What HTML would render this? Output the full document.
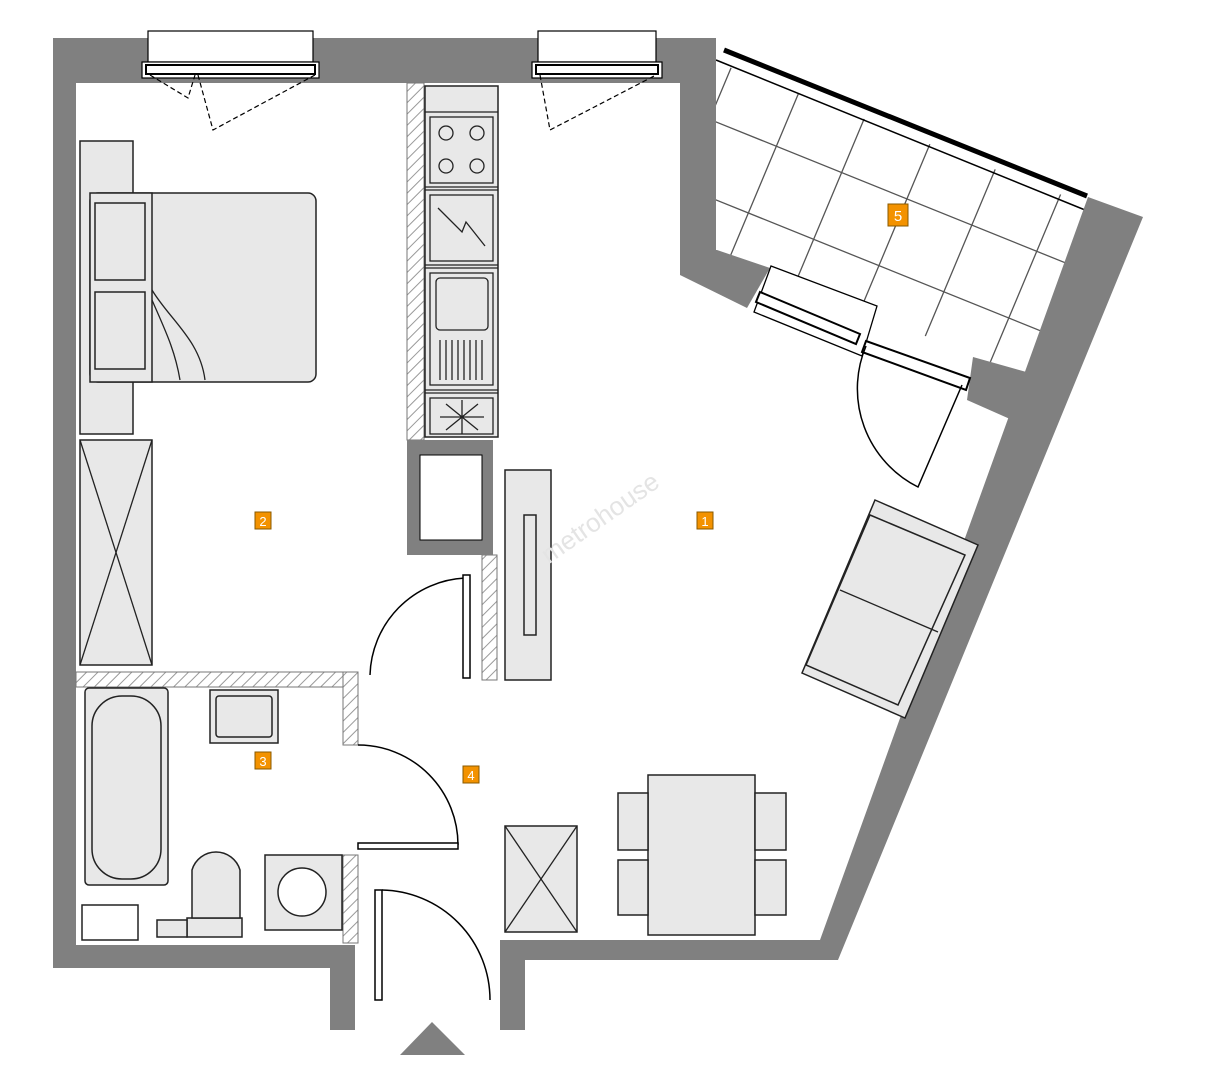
<!DOCTYPE html>
<html><head><meta charset="utf-8"><style>
html,body{margin:0;padding:0;background:#fff;}
svg{display:block;}
</style></head><body>
<svg width="1217" height="1080" viewBox="0 0 1217 1080" xmlns="http://www.w3.org/2000/svg" font-family="Liberation Sans, sans-serif">
<defs>
<pattern id="h" width="8" height="8" patternUnits="userSpaceOnUse" patternTransform="rotate(45)">
<rect width="8" height="8" fill="#fff"/><line x1="0" y1="0" x2="0" y2="8" stroke="#999" stroke-width="2"/>
</pattern>
<clipPath id="bal"><polygon points="716,62 1088,205 1030,373 973,357 770,268 716,250"/></clipPath>
</defs>
<!-- balcony tiles -->
<g clip-path="url(#bal)" stroke="#555" stroke-width="1.3">
<line x1="617" y1="82" x2="1217" y2="324"/>
<line x1="617" y1="160" x2="1217" y2="402"/>
<line x1="617" y1="238" x2="1217" y2="480"/>
<line x1="617" y1="4" x2="1217" y2="246"/>
<line x1="796" y1="-87" x2="601" y2="378"/>
<line x1="862" y1="-58" x2="667" y2="407"/>
<line x1="927" y1="-31" x2="732" y2="434"/>
<line x1="992" y1="-4" x2="797" y2="461"/>
<line x1="1057" y1="22" x2="862" y2="487"/>
<line x1="1122" y1="48" x2="927" y2="513"/>
</g>
<!-- balcony railing -->
<line x1="724" y1="50" x2="1087" y2="196" stroke="#000" stroke-width="5"/>
<line x1="716" y1="60" x2="1090" y2="212" stroke="#000" stroke-width="1.5"/>
<!-- walls -->
<g fill="#808080">
<rect x="53" y="38" width="663" height="45"/>
<rect x="53" y="38" width="23" height="930"/>
<rect x="680" y="38" width="36" height="212"/>
<polygon points="680,250 717,250 770,268 747,308 680,275"/>
<polygon points="973,357 1030,373 1028,427 967,400"/>
<polygon points="1088,197 1143,217 838,960 525,960 525,1030 500,1030 500,940 820,940"/>
<rect x="53" y="945" width="302" height="23"/>
<rect x="330" y="945" width="25" height="85"/>
<polygon points="400,1055 432,1022 465,1055"/>
</g>
<!-- top windows -->
<g fill="#fff" stroke="#000" stroke-width="1.2">
<rect x="148" y="31" width="165" height="31"/>
<rect x="142" y="62" width="177" height="16"/>
<rect x="146" y="65" width="169" height="9" stroke-width="2"/>
<rect x="538" y="31" width="118" height="31"/>
<rect x="532" y="62" width="130" height="16"/>
<rect x="536" y="65" width="122" height="9" stroke-width="2"/>
</g>
<g fill="none" stroke="#000" stroke-width="1.2" stroke-dasharray="5,3">
<polyline points="150,75 188,98 195,75"/>
<polyline points="198,75 213,130 315,75"/>
<polyline points="540,75 550,130 656,75"/>
</g>
<!-- balcony door -->
<g stroke="#000" stroke-width="1.3" fill="#fff">
<polygon points="771,266 877,306 862,356 754,312"/>
<polygon points="760,292 860,334 856,344 756,302" stroke-width="2"/>
<polygon points="866,341 970,378 966,390 862,352" stroke-width="2"/>
</g>
<path d="M866,346 A110,110 0 0 0 918,487 L962,385" fill="none" stroke="#000" stroke-width="1.5"/>
<!-- partitions hatched -->
<g fill="url(#h)" stroke="#777" stroke-width="1">
<rect x="407" y="83" width="17" height="357"/>
<rect x="482" y="555" width="15" height="125"/>
<rect x="76" y="672" width="282" height="15"/>
<rect x="343" y="672" width="15" height="73"/>
<rect x="343" y="855" width="15" height="88"/>
</g>
<rect x="407" y="440" width="86" height="115" fill="#808080"/>
<rect x="420" y="455" width="62" height="85" fill="#fff" stroke="#000"/>
<!-- furniture -->
<g fill="#e8e8e8" stroke="#222" stroke-width="1.5">
<rect x="80" y="141" width="53" height="293"/>
<rect x="90" y="193" width="226" height="189" rx="8"/>
<rect x="90" y="193" width="62" height="189"/>
<rect x="95" y="203" width="50" height="77"/>
<rect x="95" y="292" width="50" height="77"/>
<rect x="80" y="440" width="72" height="225"/>
<rect x="425" y="86" width="73" height="351"/>
<rect x="505" y="470" width="46" height="210"/>
<rect x="524" y="515" width="12" height="120"/>
<rect x="648" y="775" width="107" height="160"/>
<rect x="618" y="793" width="30" height="57"/>
<rect x="618" y="860" width="30" height="55"/>
<rect x="755" y="793" width="31" height="57"/>
<rect x="755" y="860" width="31" height="55"/>
<rect x="505" y="826" width="72" height="106"/>
<rect x="85" y="688" width="83" height="197" rx="4"/>
<rect x="92" y="696" width="69" height="183" rx="30"/>
<rect x="210" y="690" width="68" height="53"/>
<rect x="216" y="696" width="56" height="41" rx="3"/>
<rect x="265" y="855" width="77" height="75"/>
<circle cx="302" cy="892" r="24" fill="#fff"/>
<rect x="187" y="918" width="55" height="19"/>
<path d="M192,918 L192,870 A25,25 0 0 1 240,870 L240,918 Z"/>
<rect x="157" y="920" width="30" height="17"/>
<rect x="82" y="905" width="56" height="35" fill="#fff"/>
<polygon points="875,500 978,545 905,718 802,673"/>
<polygon points="870,515 965,555 898,705 806,665"/>
</g>
<g stroke="#222" stroke-width="1.3" fill="none">
<line x1="80" y1="440" x2="152" y2="665"/><line x1="152" y1="440" x2="80" y2="665"/>
<line x1="505" y1="826" x2="577" y2="932"/><line x1="577" y1="826" x2="505" y2="932"/>
<line x1="425" y1="112" x2="498" y2="112"/><line x1="425" y1="187" x2="498" y2="187"/>
<line x1="425" y1="190" x2="498" y2="190"/><line x1="425" y1="265" x2="498" y2="265"/>
<line x1="425" y1="268" x2="498" y2="268"/><line x1="425" y1="390" x2="498" y2="390"/>
<line x1="425" y1="393" x2="498" y2="393"/>
<rect x="430" y="117" width="63" height="66"/>
<circle cx="446" cy="133" r="7"/><circle cx="477" cy="133" r="7"/>
<circle cx="446" cy="166" r="7"/><circle cx="477" cy="166" r="7"/>
<rect x="430" y="195" width="63" height="66"/>
<polyline points="438,208 462,232 466,222 485,246"/>
<rect x="430" y="273" width="63" height="112"/>
<rect x="436" y="278" width="52" height="52" rx="4"/>
<path d="M440,340 v40 M446,340 v40 M452,340 v40 M458,340 v40 M464,340 v40 M470,340 v40 M476,340 v40 M482,340 v40"/>
<rect x="430" y="398" width="63" height="36"/>
<path d="M446,404 L478,430 M478,404 L446,430 M462,400 L462,434 M440,417 L484,417"/>
<path d="M152,290 C170,320 200,340 205,380 M152,300 C165,330 175,350 180,380"/>
<line x1="840" y1="590" x2="938" y2="632"/>
</g>
<!-- doors -->
<g fill="none" stroke="#000" stroke-width="1.5">
<path d="M370,675 A100,100 0 0 1 465,578"/>
<rect x="463" y="575" width="7" height="103" fill="#fff"/>
<path d="M358,745 A100,100 0 0 1 458,845"/>
<rect x="358" y="843" width="100" height="6" fill="#fff"/>
<path d="M382,890 A110,110 0 0 1 490,1000"/>
<rect x="375" y="890" width="7" height="110" fill="#fff"/>
</g>
<!-- labels -->
<g font-size="13" fill="#fff" text-anchor="middle">
<rect x="255" y="512" width="16" height="17" fill="#f39200" stroke="#8a5a00"/><text x="263" y="526">2</text>
<rect x="697" y="512" width="16" height="17" fill="#f39200" stroke="#8a5a00"/><text x="705" y="526">1</text>
<rect x="255" y="752" width="16" height="17" fill="#f39200" stroke="#8a5a00"/><text x="263" y="766">3</text>
<rect x="463" y="766" width="16" height="17" fill="#f39200" stroke="#8a5a00"/><text x="471" y="780">4</text>
<rect x="888" y="204" width="20" height="22" fill="#f39200" stroke="#8a5a00"/><text x="898" y="221" font-size="15">5</text>
</g>
<text x="605" y="525" font-size="26" fill="#e4e4e4" text-anchor="middle" transform="rotate(-35 605 525)">metrohouse</text>
</svg>
</body></html>
